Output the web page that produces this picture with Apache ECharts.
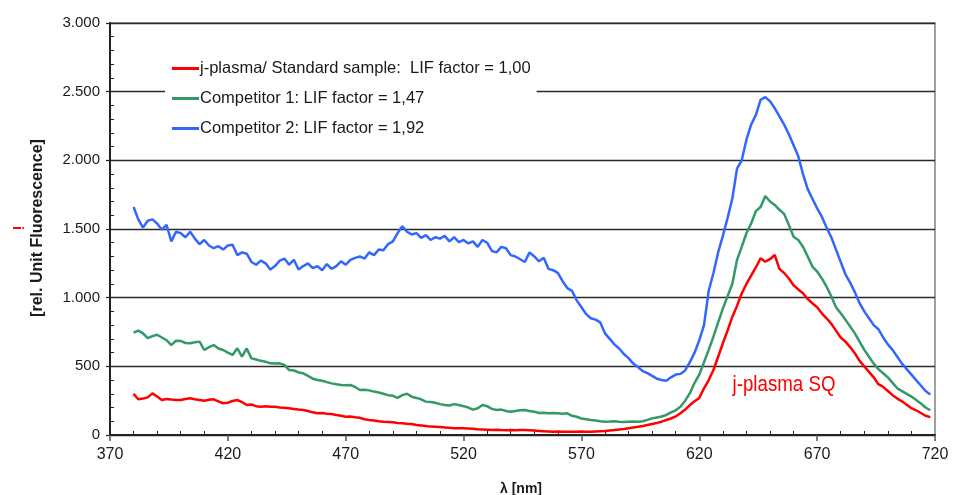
<!DOCTYPE html>
<html>
<head>
<meta charset="utf-8">
<script src="https://cdn.jsdelivr.net/npm/echarts@6/dist/echarts.min.js"></script>
<style>
html,body{margin:0;padding:0;background:#fff;}
#chart{width:962px;height:495px;}
</style>
</head>
<body>
<div id="chart"></div>
<script>
// wavelength grid (nm): 380 .. 718, step 2
const lambdaStart = 380, lambdaStep = 2;

const seriesNames = [
  'j-plasma/ Standard sample:  LIF factor = 1,00',
  'Competitor 1: LIF factor = 1,47',
  'Competitor 2: LIF factor = 1,92'
];
const seriesColors = ['#ff0000', '#339966', '#3366ff'];

const jPlasma = [
  299, 260, 265, 274, 303, 280, 255, 262, 258, 255,
  255, 262, 267, 260, 255, 250, 256, 260, 245, 231,
  235, 248, 255, 240, 218, 222, 210, 206, 210, 206,
  206, 200, 198, 194, 190, 185, 182, 175, 165, 158,
  160, 155, 153, 145, 140, 133, 135, 129, 125, 115,
  109, 105, 100, 97, 95, 92, 88, 85, 82, 80,
  73, 70, 66, 61, 60, 58, 55, 52, 50, 49,
  49, 47, 45, 42, 40, 38, 36, 38, 36, 35,
  36, 35, 37, 36, 34, 32, 30, 28, 26, 24,
  25, 24, 24, 23, 24, 25, 24, 24, 26, 28,
  30, 33, 36, 40, 44, 49, 55, 60, 66, 73,
  80, 88, 97, 109, 120, 135, 158, 185, 218, 245,
  270, 340, 400, 473, 570, 668, 760, 860, 940, 1030,
  1100, 1160, 1220, 1287, 1262, 1280, 1311, 1210, 1180, 1140,
  1090, 1060, 1032, 990, 959, 930, 886, 850, 810, 760,
  710, 680, 640, 595, 540, 500, 460, 420, 370, 350,
  320, 290, 265, 245, 220, 195, 180, 160, 140, 130
];

const competitor1 = [
  745, 760, 740, 705, 720, 730, 710, 690, 655, 687,
  685, 670, 668, 675, 680, 619, 640, 655, 630, 619,
  600, 583, 631, 570, 630, 558, 550, 540, 534, 522,
  520, 522, 510, 473, 470, 455, 449, 430, 410, 400,
  395, 385, 376, 370, 364, 362, 364, 350, 328, 330,
  325, 316, 310, 300, 290, 285, 270, 290, 300, 279,
  270, 260, 243, 240, 235, 225, 218, 215, 225, 218,
  210, 200, 185, 195, 218, 210, 190, 182, 185, 175,
  170, 175, 180, 182, 175, 170, 160, 162, 158, 160,
  158, 155, 158, 140, 133, 120, 115, 109, 105, 100,
  97, 98, 100, 97, 95, 97, 98, 97, 100, 110,
  121, 128, 135, 146, 165, 180, 206, 250, 304, 380,
  440, 530, 620, 716, 820, 920, 1010, 1100, 1275, 1370,
  1469, 1540, 1630, 1660, 1740, 1700, 1675, 1640, 1610, 1530,
  1444, 1420, 1371, 1300, 1226, 1190, 1140, 1080, 1010, 930,
  886, 840, 790, 740, 680, 620, 570, 520, 480, 450,
  420, 380, 340, 320, 300, 280, 255, 230, 200, 180
];

const competitor2 = [
  1660, 1570, 1510, 1560, 1570, 1540, 1495, 1530, 1410, 1480,
  1470, 1440, 1480, 1430, 1390, 1420, 1380, 1360, 1375, 1350,
  1380, 1385, 1310, 1330, 1320, 1260, 1240, 1270, 1250, 1205,
  1230, 1270, 1285, 1240, 1275, 1205, 1230, 1250, 1215, 1230,
  1200, 1245, 1210, 1230, 1265, 1240, 1275, 1290, 1300, 1285,
  1330, 1310, 1350, 1345, 1390, 1410, 1470, 1520, 1480, 1460,
  1470, 1435, 1455, 1420, 1440, 1430, 1450, 1410, 1440, 1405,
  1420, 1395, 1410, 1370, 1420, 1400, 1340, 1330, 1370, 1360,
  1310, 1300, 1280, 1260, 1330, 1300, 1265, 1290, 1210, 1200,
  1180, 1120, 1070, 1050, 980, 930, 880, 850, 840, 820,
  740, 700, 660, 630, 590, 560, 520, 495, 465, 450,
  430, 410, 400, 395, 420, 440, 445, 470, 530, 600,
  690, 800, 1050, 1180, 1330, 1450, 1580, 1720, 1940, 2000,
  2150, 2260, 2330, 2440, 2460, 2430, 2380, 2320, 2260, 2190,
  2110, 2030, 1900, 1790, 1720, 1650, 1590, 1510, 1440, 1350,
  1260, 1170, 1110, 1040, 960, 900, 850, 800, 770, 710,
  660, 620, 570, 520, 480, 440, 400, 360, 320, 295
];

const xTicks = [370, 420, 470, 520, 570, 620, 670, 720];
const yTicks = [0, 500, 1000, 1500, 2000, 2500, 3000];

function toPairs(vals) {
  return vals.map((v, i) => [lambdaStart + i * lambdaStep, v]);
}
function fmtThousands(v) {
  if (v === 0) return '0';
  const s = String(Math.round(v));
  return s.replace(/\B(?=(\d{3})+(?!\d))/g, '.');
}

const allValues = [jPlasma, competitor1, competitor2];
const FONT = 'Liberation Sans, Arial, sans-serif';

const chart = echarts.init(document.getElementById('chart'), null, {renderer: 'canvas'});
chart.setOption({
  animation: false,
  backgroundColor: '#fff',
  grid: {
    left: 110, right: 27, top: 23, bottom: 60,
    show: true, borderColor: '#a0a0a0', borderWidth: 2, backgroundColor: 'transparent'
  },
  legend: {
    orient: 'vertical',
    left: 165, top: 54,
    padding: [6, 6, 6, 7],
    backgroundColor: '#ffffff',
    itemWidth: 27, itemHeight: 3,
    itemGap: 13,
    icon: 'rect',
    textStyle: {fontFamily: FONT, fontSize: 16.5, color: '#1a1a1a', lineHeight: 17, padding: [0, 0, 0, -4]},
    data: seriesNames
  },
  xAxis: {
    type: 'value',
    min: xTicks[0], max: xTicks[xTicks.length - 1], interval: 50,
    axisLine: {show: true, lineStyle: {color: '#222', width: 2}},
    axisTick: {show: true, length: 6, lineStyle: {color: '#555', width: 1.5}},
    minorTick: {show: true, splitNumber: 5, length: -4, lineStyle: {color: '#222', width: 1}},
    axisLabel: {fontFamily: FONT, fontSize: 16, color: '#1a1a1a', margin: 12},
    splitLine: {show: false}
  },
  yAxis: {
    type: 'value',
    min: yTicks[0], max: yTicks[yTicks.length - 1], interval: 500,
    axisLine: {show: true, lineStyle: {color: '#222', width: 2}},
    axisTick: {show: true, length: 4, lineStyle: {color: '#222', width: 1.2}},
    minorTick: {show: true, splitNumber: 5, length: -4, lineStyle: {color: '#222', width: 1}},
    axisLabel: {fontFamily: FONT, fontSize: 15, color: '#1a1a1a', margin: 10, formatter: fmtThousands},
    splitLine: {show: true, lineStyle: {color: '#2a2a2a', width: 1.3}}
  },
  graphic: [
    {type: 'text', rotation: -Math.PI / 2, x: 17, y: 228,
     style: {text: 'i', fill: '#ff0000', font: 'bold 15px ' + FONT, align: 'center', verticalAlign: 'middle'}},
    {type: 'text', rotation: Math.PI / 2, x: 38, y: 228,
     style: {text: '[rel. Unit Fluorescence]', fill: '#1a1a1a', font: 'bold 16px ' + FONT, align: 'center', verticalAlign: 'middle'}},
    {type: 'text', x: 521, y: 489,
     style: {text: 'λ [nm]', fill: '#1a1a1a', font: 'bold 14px ' + FONT, align: 'center', verticalAlign: 'middle'}},
    {type: 'text', x: 784, y: 385, scaleX: 0.85,
     style: {text: 'j-plasma SQ', fill: '#ff0000', font: '22px ' + FONT, align: 'center', verticalAlign: 'middle'}}
  ],
  series: seriesNames.map((name, k) => ({
    name: name,
    type: 'line',
    showSymbol: false,
    symbol: 'none',
    z: 3 - k + 2,
    lineStyle: {color: seriesColors[k], width: 2.5},
    itemStyle: {color: seriesColors[k]},
    data: toPairs(allValues[k])
  }))
});
</script>
</body>
</html>
